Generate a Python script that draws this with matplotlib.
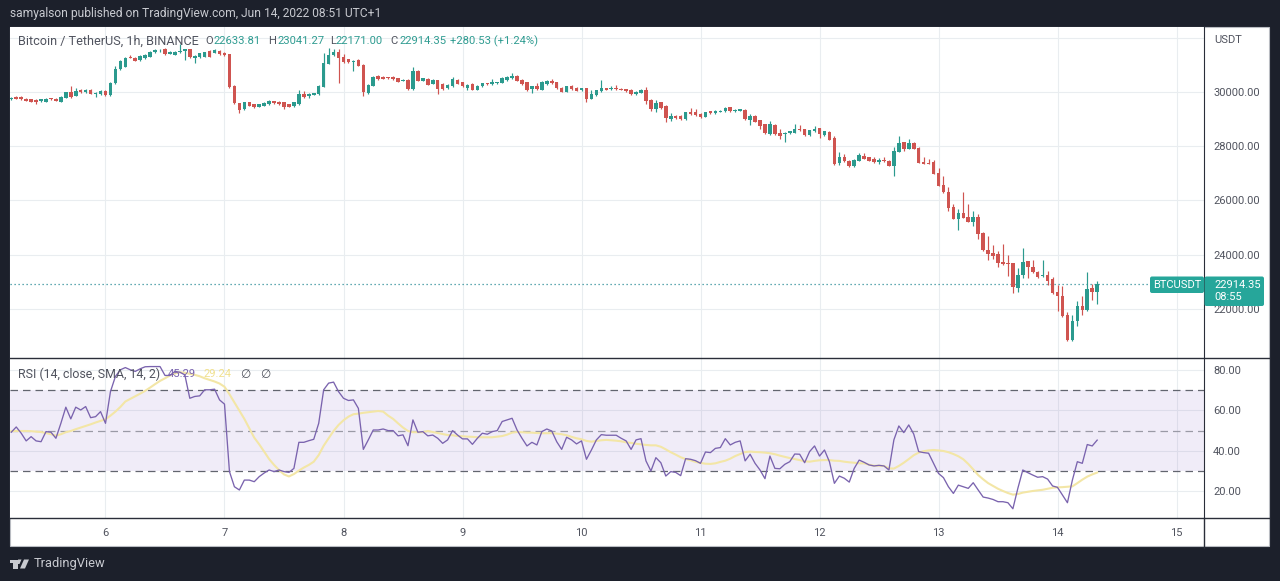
import matplotlib
matplotlib.use("Agg")
import matplotlib.pyplot as plt
from matplotlib.patches import Rectangle, Polygon, FancyBboxPatch

FONT = ['Roboto', 'DejaVu Sans']
plt.rcParams['font.family'] = FONT

first_day = 5
first_hour = 5

opens = [
 29730,29815,29815,29755,29730,29705,29655,29645,29765,29755,
 29645,29790,29990,29855,30075,30000,30085,29925,29915,30035,
 29890,30320,30835,30935,31290,31265,31170,31245,31305,31465,
 31500,31600,31415,31380,31465,31515,31575,31265,31280,31305,
 31525,31450,31525,31440,31390,30235,29580,29360,29620,29555,
 29460,29495,29545,29655,29645,29620,29545,29485,29545,29925,
 29855,29905,29925,30195,31035,31365,31465,31305,31205,31095,
 31180,30995,29950,30235,30590,30565,30540,30565,30505,30420,
 30445,30100,30785,30420,30480,30305,30430,30295,30135,30210,
 30455,30355,30160,30295,30085,30220,30320,30295,30320,30345,
 30455,30505,30605,30455,30355,30110,30235,30085,30285,30405,
 30355,30160,30010,30210,30160,30060,30135,29755,29875,30025,
 30145,30110,30145,30125,30100,30085,29915,29965,30060,29715,
 29375,29620,29495,29005,29125,29125,28990,29250,29250,29200,
 29090,29285,29215,29275,29285,29435,29300,29310,29350,28980,
 29100,28955,28805,28440,28795,28485,28440,28485,28500,28645,
 28620,28400,28550,28660,28400,28535,28300,27380,27600,27465,
 27255,27460,27655,27595,27520,27435,27495,27470,27275,27790,
 28145,27915,28135,27940,27425,27400,27410,27030,26575,26320,
 25765,25335,25545,25400,25215,25375,24810,24185,24075,24010,
 23730,23705,23680,22785,23250,23755,23545,23375,23200,23265,
 23090,22625,22490,21765,20845,21545,22110,21950,22760,22633.81]

closes = [
 29790,29755,29740,29670,29645,29630,29730,29755,29730,29680,
 29815,29990,29815,30050,29990,30075,29940,29975,30050,29890,
 30345,30850,31155,31265,31265,31145,31340,31365,31490,31550,
 31525,31390,31490,31490,31525,31575,31280,31330,31425,31465,
 31305,31550,31390,31365,30170,29580,29335,29620,29495,29435,
 29555,29595,29680,29580,29545,29445,29460,29620,29925,29815,
 29925,29950,30220,31085,31365,31465,31245,31095,31095,31145,
 30970,29990,30260,30565,30480,30490,30515,30470,30380,30445,
 30110,30785,30420,30505,30260,30455,30110,30110,30260,30480,
 30305,30210,30270,30085,30220,30320,30295,30355,30355,30515,
 30540,30580,30420,30285,30085,30210,30110,30380,30405,30330,
 30135,30010,30210,30110,30050,30135,29740,29925,30060,30145,
 30085,30145,30110,30075,30025,29915,30010,30075,29655,29375,
 29595,29410,29030,29125,29040,28990,29250,29200,29150,29075,
 29260,29215,29300,29310,29410,29285,29335,29360,28990,29100,
 28905,28735,28475,28805,28440,28390,28500,28560,28645,28585,
 28400,28585,28645,28460,28550,28240,27355,27600,27440,27255,
 27505,27670,27545,27470,27410,27495,27445,27275,27815,28135,
 27890,28135,27915,27400,27360,27360,26980,26550,26295,25730,
 25335,25545,25360,25225,25375,24775,24160,24035,23940,23695,
 23655,23655,22795,23265,23740,23535,23350,23180,23250,23045,
 22575,22465,21730,20845,21570,22110,21950,22750,22615,22914.35]

highs = [
 29810,29835,29835,29775,29750,29725,29750,29775,29785,29775,
 29835,30010,30220,30135,30095,30095,30105,29995,30070,30055,
 30365,30960,31175,31285,31365,31285,31380,31390,31510,31575,
 31600,31620,31510,31510,31760,31600,31600,31350,31445,31490,
 31550,31570,31545,31460,31410,30255,29600,29640,29640,29575,
 29575,29615,29700,29675,29665,29640,29565,29640,30075,30025,
 29945,29970,30240,31425,31610,31590,31575,31400,31225,31165,
 31200,31015,30280,30585,30610,30585,30560,30585,30525,30465,
 30465,30910,30805,30525,30500,30480,30445,30330,30280,30540,
 30480,30375,30290,30315,30240,30340,30340,30480,30375,30535,
 30600,30700,30625,30475,30375,30230,30330,30400,30425,30480,
 30375,30180,30230,30260,30180,30155,30155,30085,30080,30430,
 30165,30210,30270,30145,30120,30105,30030,30110,30185,29735,
 29715,29640,29515,29225,29145,29145,29270,29410,29375,29220,
 29280,29305,29320,29330,29430,29455,29355,29380,29370,29190,
 29165,28975,28825,28920,28815,28635,28520,28580,28820,28795,
 28640,28605,28735,28680,28570,28555,28390,27775,27700,27485,
 27525,27745,27765,27615,27620,27560,27620,27490,27985,28390,
 28165,28280,28155,27960,27585,27520,27495,27190,26910,26480,
 25875,25695,26295,25875,25620,25485,24830,24675,24345,24120,
 24405,24000,23700,23520,24235,23775,23815,23395,23815,23410,
 23165,22895,22835,21890,21790,22305,22490,23375,22930,23041.27]

lows = [
 29710,29735,29720,29650,29625,29570,29635,29625,29710,29660,
 29625,29770,29795,29835,29970,29980,29920,29815,29895,29870,
 29870,30300,30815,30915,31245,31125,31150,31225,31285,31445,
 31480,31370,31395,31360,31445,31180,31260,31060,31260,31285,
 31285,31430,31370,31345,30150,29560,29240,29340,29475,29415,
 29440,29475,29525,29560,29525,29360,29440,29465,29525,29795,
 29790,29880,29905,30175,31015,31345,30345,31075,31075,30790,
 30950,29865,29930,30215,30460,30470,30495,30450,30360,30400,
 30090,30080,30400,30400,30240,30290,29940,30090,30115,30190,
 30285,30190,30085,30065,30065,30200,30275,30275,30300,30325,
 30395,30485,30400,30265,30025,29980,30090,30065,30265,30310,
 30115,29990,29990,30090,30030,30040,29620,29735,29855,30005,
 30065,30090,30090,30055,30005,29895,29895,29945,29555,29285,
 29250,29390,28880,28940,29020,28970,28970,29165,29130,29055,
 29070,29195,29195,29255,29265,29265,29280,29290,28970,28770,
 28885,28635,28455,28400,28420,28280,28155,28465,28480,28565,
 28380,28380,28530,28290,28380,28220,27305,27295,27420,27235,
 27235,27440,27530,27450,27390,27360,27430,27255,26910,27770,
 27830,27895,27895,27380,27345,27345,26960,26530,26275,25595,
 25315,24920,25340,25205,25065,24575,24140,23815,23850,23535,
 23640,23225,22590,22640,23140,23130,23330,23160,23185,22885,
 22555,21925,21710,20825,20825,21360,21790,21930,22345,22171.00]

rsi = [
 49.2,51.8,48.7,44.9,47.0,44.9,44.5,49.5,49.2,46.2,
 53.6,61.6,55.8,61.6,60.2,61.9,56.4,56.9,59.4,53.6,
 69.3,76.8,80.1,81.2,80.1,79.3,80.6,81.6,81.7,81.7,
 81.7,77.3,77.3,79.3,78.9,77.6,66.0,66.9,67.2,70.2,
 70.2,70.5,65.2,63.1,29.7,22.2,20.6,25.5,25.5,24.7,
 27.2,29.0,30.5,29.7,30.5,29.7,29.3,31.3,44.2,44.2,
 45.0,45.7,53.6,70.2,73.5,74.0,69.3,66.0,64.9,65.2,
 61.0,40.7,45.4,50.3,50.3,50.8,50.0,50.0,47.4,47.9,
 42.5,55.3,49.2,49.5,47.4,47.8,46.2,43.7,45.4,50.0,
 47.8,45.9,45.9,43.2,46.2,48.7,48.2,49.5,50.0,54.5,
 55.3,56.1,50.3,46.2,42.4,44.2,42.9,49.5,50.8,49.8,
 44.5,40.7,46.7,45.4,43.4,44.9,35.8,40.4,45.4,48.0,
 47.7,47.7,47.7,46.2,44.9,40.7,45.4,46.0,35.0,30.0,
 36.6,34.1,27.5,29.7,29.3,27.7,36.1,35.8,35.1,33.8,
 39.4,39.1,41.2,41.6,46.0,42.9,44.2,44.9,35.0,38.3,
 33.8,30.5,26.2,37.4,31.3,31.1,33.3,34.6,38.4,38.3,
 34.1,39.6,42.4,37.4,40.4,34.6,23.9,27.5,26.4,24.5,
 31.3,35.4,34.3,33.0,32.5,32.8,32.5,30.5,45.4,52.3,
 49.0,52.8,48.3,39.6,39.1,38.8,33.8,28.8,26.7,22.2,
 18.9,23.0,22.2,21.4,24.2,20.6,17.1,16.6,15.9,14.8,
 14.8,14.3,11.3,21.4,30.5,29.2,28.0,26.9,27.2,26.0,
 22.6,21.9,18.1,14.3,25.5,34.6,33.8,43.1,42.4,45.29]

rsi_sma = [
 49.8,49.8,49.8,49.8,49.7,49.5,49.3,48.8,48.2,47.5,
 48.2,49.2,49.8,50.7,51.5,52.3,53.1,54.0,54.8,55.6,
 57.4,59.4,61.7,64.4,65.7,67.0,68.3,69.7,71.3,73.0,
 74.6,75.9,77.3,78.3,78.9,78.6,78.1,77.6,76.9,75.9,
 75.1,74.3,73.3,71.7,68.0,63.9,59.7,55.8,51.1,46.5,
 43.2,39.6,35.9,33.0,30.5,28.3,27.3,28.5,30.2,31.7,
 33.0,34.6,37.9,42.5,46.2,49.8,52.8,55.1,56.9,58.1,
 58.4,58.8,59.1,59.4,59.7,59.4,57.4,55.8,53.6,51.5,
 49.8,49.2,49.2,49.2,49.8,49.3,48.8,48.3,47.8,47.7,
 47.3,47.2,47.0,46.9,46.7,46.7,46.7,46.7,47.0,47.3,
 48.0,49.0,49.3,49.2,49.0,49.0,48.8,48.7,48.7,48.7,
 48.5,48.2,47.7,46.9,46.2,45.7,44.9,44.5,44.9,45.2,
 45.4,45.2,45.0,44.7,44.2,43.9,43.5,43.2,42.9,42.7,
 42.7,42.0,40.7,39.3,38.1,36.8,35.9,35.3,34.5,34.0,
 33.6,33.5,33.8,34.5,35.1,36.1,37.4,38.4,39.4,39.6,
 39.4,39.3,39.1,38.8,38.3,37.6,37.0,36.4,35.9,35.4,
 34.8,34.6,35.0,35.3,35.4,35.4,35.1,35.0,34.6,34.3,
 34.1,33.8,33.8,33.1,32.6,32.6,32.5,31.3,31.2,32.5,
 34.1,35.9,37.8,39.1,39.8,40.2,40.4,40.2,39.9,39.3,
 38.4,37.3,35.8,33.5,30.8,28.0,25.9,24.0,22.6,21.2,
 20.1,19.1,18.3,18.6,19.3,19.7,20.1,20.4,20.7,21.2,
 21.7,21.9,22.0,22.2,22.4,24.0,25.7,27.2,28.3,29.24]

day_ticks = [6, 7, 8, 9, 10, 11, 12, 13, 14, 15]
price_ticks = [22000, 24000, 26000, 28000, 30000]
rsi_ticks = [20, 40, 60, 80]

W, H = 1280, 581
BG = '#1c202b'
UP = '#2b9a8e'
DOWN = '#cf5450'
TEAL = '#26a69a'
GRID = '#e9edf0'
TXT = '#50535e'
LINE = '#2a2e39'

times = [first_day + (first_hour + i) / 24 for i in range(len(closes))]

fig = plt.figure(figsize=(W / 100, H / 100), dpi=100, facecolor=BG)

def box(l, t, r, b):
    return [l / W, 1 - b / H, (r - l) / W, (b - t) / H]

bg = fig.add_axes([0, 0, 1, 1], zorder=0)
bg.set_xlim(0, W); bg.set_ylim(H, 0); bg.axis('off')
bg.add_patch(Rectangle((10, 27), 1259, 518.5, fc='white', ec='#b9bcc2', lw=0.8))

xlim = (5.1975, 15.231)
ax = fig.add_axes(box(10, 27, 1204, 358), zorder=1)
rs = fig.add_axes(box(10, 358, 1204, 518), zorder=1, sharex=ax)

for a in (ax, rs):
    a.set_xlim(*xlim)
    a.set_xticks(day_ticks)
    a.grid(True, color=GRID, lw=0.8)
    a.set_axisbelow(True)
    a.yaxis.tick_right()
    for s in a.spines.values():
        s.set_visible(False)
    a.spines['right'].set_visible(True)
    a.spines['right'].set_color(LINE)

# price pane
ax.set_ylim(20193, 32396)
ax.set_yticks(price_ticks + [32000])
ax.set_yticklabels([f'{v:.2f}' for v in price_ticks] + [''])
ax.tick_params(axis='y', length=0, pad=6.5, labelsize=8, labelcolor=TXT)
ax.tick_params(axis='x', length=0, labelbottom=False)

colors = [UP if c >= o else DOWN for o, c in zip(opens, closes)]
ax.vlines(times, lows, highs, colors=colors, lw=0.85, zorder=3)
ax.bar(times, [abs(c - o) for o, c in zip(opens, closes)],
       bottom=[min(o, c) for o, c in zip(opens, closes)],
       width=0.72 / 24, color=colors, lw=0, zorder=4)
ax.axhline(closes[-1], color='#2f8f99', lw=0.9, ls=(0, (1, 2.2)), zorder=2)

# RSI pane
rs.set_ylim(6.73, 85.94)
rs.set_yticks(rsi_ticks)
rs.set_yticklabels([f'{v:.2f}' for v in rsi_ticks])
rs.tick_params(axis='y', length=0, pad=6.5, labelsize=8, labelcolor=TXT)
rs.set_xticklabels([str(d) for d in day_ticks])
rs.tick_params(axis='x', length=0, pad=7, labelsize=8, labelcolor=TXT)
rs.axhspan(30, 70, color='#7e57c2', alpha=0.11, lw=0, zorder=1)
rs.axhline(70, color='#62656f', lw=0.9, ls=(0, (6, 4)), zorder=2)
rs.axhline(50, color='#9a9aa6', lw=0.9, ls=(0, (6, 4)), zorder=2)
rs.axhline(30, color='#62656f', lw=0.9, ls=(0, (6, 4)), zorder=2)
rs.plot(times, rsi_sma, color='#f3e6a6', lw=1.5, zorder=3)
rs.plot(times, rsi, color='#7a63ae', lw=0.95, zorder=4)

# overlay: texts, labels
ov = fig.add_axes([0, 0, 1, 1], zorder=5)
ov.set_xlim(0, W); ov.set_ylim(H, 0); ov.axis('off'); ov.patch.set_alpha(0)

# pane separators and the axis column
ov.plot([10, 1269], [358, 358], color=LINE, lw=1)
ov.plot([10, 1269], [518, 518], color=LINE, lw=1)
ov.plot([1204, 1204], [518, 548], color=LINE, lw=1)

def t(x, y, s, c=TXT, size=8.3, **kw):
    ov.text(x, y, s, color=c, fontsize=size, va='center', ha=kw.pop('ha', 'left'), **kw)

t(10, 14, 'samyalson published on TradingView.com, Jun 14, 2022 08:51 UTC+1', '#c8cad0', 8.65)
t(18, 41.5, 'Bitcoin / TetherUS, 1h, BINANCE', TXT, 9.1)
val = '#2f9c91'
for x, s, c in [(205, 'O', TXT), (214, '22633.81', val), (268, 'H', TXT), (277, '23041.27', val),
                (330, 'L', TXT), (336, '22171.00', val), (390, 'C', TXT), (399, '22914.35', val),
                (450, '+280.53 (+1.24%)', val)]:
    t(x, 41.5, s, c, 8.1)
t(1214, 40, 'USDT', TXT, 8)

t(18, 374, 'RSI (14, close, SMA, 14, 2)', TXT, 8.9)
t(168, 374, f'{rsi[-1]:.2f}', '#7a63ae', 8.1)
t(204, 374, f'{rsi_sma[-1]:.2f}', '#f0e08e', 8.1)
t(240, 374, '\u2205', TXT, 8.5, family='DejaVu Sans')
t(260, 374, '\u2205', TXT, 8.5, family='DejaVu Sans')

# last price tags
ov.add_patch(FancyBboxPatch((1150, 276.5), 54, 16.5, boxstyle='round,pad=0,rounding_size=2',
                            fc=TEAL, ec='none'))
ov.add_patch(FancyBboxPatch((1204.5, 276.5), 59.5, 29.5, boxstyle='round,pad=0,rounding_size=2',
                            fc=TEAL, ec='none'))
t(1177, 284.5, 'BTCUSDT', 'white', 8, ha='center')
t(1214, 284.5, f'{closes[-1]:.2f}', 'white', 8)
t(1214, 297, '08:55', 'white', 8)

# footer logo and wordmark
logo = '#c8cad0'
ov.add_patch(Rectangle((10, 559.5), 8.5, 3.2, fc=logo, ec='none'))
ov.add_patch(Rectangle((13, 559.5), 4.5, 9, fc=logo, ec='none'))
ov.add_patch(Polygon([(20, 568.5), (24, 559.5), (29, 559.5), (25, 568.5)], fc=logo, ec='none'))
ov.add_patch(Polygon([(18, 559.5), (21.5, 559.5), (19.5, 564), (18, 564)], fc=logo, ec='none'))
t(34, 563.5, 'TradingView', '#c8cad0', 9.3)

fig.savefig('out.png', dpi=100, facecolor=BG)
